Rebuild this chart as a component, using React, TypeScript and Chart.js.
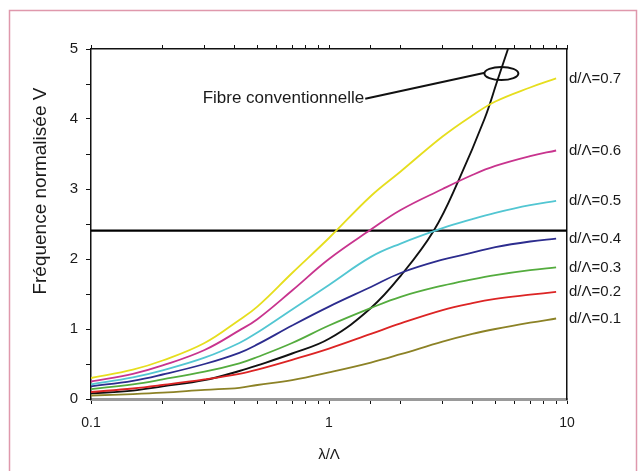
import React, { useEffect, useRef } from "react";
import { Chart, registerables } from "chart.js";

Chart.register(...registerables);

// ---- data ----
const xValues = [0.1, 0.15, 0.2, 0.3, 0.42, 0.5, 0.7, 1, 1.5, 2, 3, 4, 5, 7, 9];
const v07 = [0.3, 0.42, 0.55, 0.8, 1.13, 1.32, 1.8, 2.3, 2.9, 3.25, 3.75, 4.05, 4.25, 4.45, 4.58];
const v06 = [0.25, 0.36, 0.48, 0.7, 0.98, 1.14, 1.55, 2.0, 2.42, 2.7, 3.0, 3.2, 3.33, 3.47, 3.55];
const v05 = [0.21, 0.31, 0.41, 0.59, 0.8, 0.95, 1.28, 1.63, 2.03, 2.22, 2.44, 2.57, 2.66, 2.77, 2.83];
const v04 = [0.18, 0.26, 0.35, 0.5, 0.66, 0.78, 1.05, 1.32, 1.6, 1.8, 1.99, 2.09, 2.17, 2.25, 2.29];
const v03 = [0.14, 0.21, 0.28, 0.39, 0.51, 0.6, 0.8, 1.05, 1.3, 1.46, 1.62, 1.71, 1.77, 1.84, 1.88];
const v02 = [0.1, 0.15, 0.2, 0.28, 0.36, 0.42, 0.56, 0.72, 0.93, 1.08, 1.27, 1.37, 1.43, 1.49, 1.53];
const v01 = [0.05, 0.07, 0.09, 0.13, 0.16, 0.2, 0.27, 0.38, 0.52, 0.64, 0.82, 0.93, 1.0, 1.09, 1.15];

const convX = [0.1, 0.15, 0.2, 0.3, 0.42, 0.5, 0.7, 1, 1.5, 2, 2.75, 3.5, 4.5, 5.1, 5.65];
const convV = [0.08, 0.12, 0.18, 0.27, 0.4, 0.48, 0.65, 0.86, 1.3, 1.76, 2.4, 3.12, 4.0, 4.55, 5.0];

const cutoffX = [0.1, 10];
const cutoffV = [2.405, 2.405];

const seriesLabels = ["d/Λ=0.7", "d/Λ=0.6", "d/Λ=0.5", "d/Λ=0.4", "d/Λ=0.3", "d/Λ=0.2", "d/Λ=0.1"];
const seriesValues = [v07, v06, v05, v04, v03, v02, v01];
const seriesColors = ["#e6de1e", "#c8348e", "#52c6d2", "#2c2c8e", "#54ac3e", "#dc2424", "#8c8226"];

const xTickLabels = [0.1, 1, 10];
const yMin = 0;
const yMax = 5;

const yTitle = "Fréquence normalisée V";
const xTitle = "λ/Λ";
const convLabel = "Fibre conventionnelle";
const ellipseAt = { x: 5.3, y: 4.65 };
const leaderFrom = { x: 1.42, y: 4.29 };
const leaderTo = { x: 4.52, y: 4.66 };

const FONT = "'Liberation Sans', Arial, Helvetica, sans-serif";

const decorPlugin = {
  id: "decor",
  beforeDraw(chart: any) {
    const { ctx, width, height } = chart;
    ctx.save();
    ctx.fillStyle = "#ffffff";
    ctx.fillRect(0, 0, width, height);
    ctx.restore();
  },
  afterDraw(chart: any) {
    const { ctx, chartArea } = chart;
    const xs = chart.scales.x;
    const ys = chart.scales.y;
    ctx.save();
    // pink frame
    ctx.strokeStyle = "#df98ac";
    ctx.lineWidth = 1.5;
    ctx.strokeRect(9.5, 10.5, 627, 470);

    // right labels
    ctx.fillStyle = "#1a1a1a";
    ctx.font = `15px ${FONT}`;
    ctx.textAlign = "left";
    ctx.textBaseline = "middle";
    seriesValues.forEach((vals, i) => {
      const yy = ys.getPixelForValue(vals[vals.length - 1]);
      ctx.fillText(seriesLabels[i], chartArea.right + 2, yy);
    });

    // y title
    ctx.save();
    ctx.font = `19px ${FONT}`;
    ctx.textAlign = "center";
    ctx.textBaseline = "middle";
    ctx.translate(chartArea.left - 50, ys.getPixelForValue(2.97));
    ctx.rotate(-Math.PI / 2);
    ctx.fillText(yTitle, 0, 0);
    ctx.restore();

    // x title
    ctx.font = `15px ${FONT}`;
    ctx.textAlign = "center";
    ctx.textBaseline = "middle";
    ctx.fillText(xTitle, (chartArea.left + chartArea.right) / 2, chartArea.bottom + 56);

    // annotation
    const fx = xs.getPixelForValue(leaderFrom.x);
    const fy = ys.getPixelForValue(leaderFrom.y);
    const tx = xs.getPixelForValue(leaderTo.x);
    const ty = ys.getPixelForValue(leaderTo.y);
    ctx.strokeStyle = "#111";
    ctx.lineWidth = 2;
    ctx.beginPath();
    ctx.moveTo(fx, fy);
    ctx.lineTo(tx, ty);
    ctx.stroke();
    ctx.font = `17px ${FONT}`;
    ctx.textAlign = "right";
    ctx.fillText(convLabel, fx - 1, fy);

    const ex = xs.getPixelForValue(ellipseAt.x);
    const ey = ys.getPixelForValue(ellipseAt.y);
    ctx.beginPath();
    ctx.ellipse(ex, ey, 17, 6.5, 0, 0, Math.PI * 2);
    ctx.stroke();
    ctx.restore();
  },
};

const isDecade = (v: number) => Math.abs(Math.log10(v) - Math.round(Math.log10(v))) < 1e-6;

export default function App() {
  const ref = useRef<HTMLCanvasElement | null>(null);
  useEffect(() => {
    if (!ref.current) return;
    const datasets: any[] = seriesValues.map((vals, i) => ({
      label: seriesLabels[i],
      data: xValues.map((x, j) => ({ x, y: vals[j] })),
      borderColor: seriesColors[i],
      borderWidth: 1.8,
      pointRadius: 0,
      tension: 0.4,
      fill: false,
    }));
    datasets.push({
      label: convLabel,
      data: convX.map((x, j) => ({ x, y: convV[j] })),
      borderColor: "#111111",
      borderWidth: 1.9,
      pointRadius: 0,
      tension: 0.4,
      fill: false,
    });
    datasets.push({
      label: "cutoff",
      data: cutoffX.map((x, j) => ({ x, y: cutoffV[j] })),
      borderColor: "#000000",
      borderWidth: 2.2,
      pointRadius: 0,
      fill: false,
    });

    const chart = new Chart(ref.current, {
      type: "line",
      data: { datasets },
      plugins: [decorPlugin],
      options: {
        responsive: false,
        animation: false,
        layout: { padding: 0 },
        plugins: { legend: { display: false }, tooltip: { enabled: false } },
        scales: {
          x: {
            type: "logarithmic",
            position: "bottom",
            min: 0.1,
            max: 10,
            afterFit: (s: any) => { s.height = 72; },
            border: { display: true, color: "#9a9a9a", width: 3 },
            grid: { drawOnChartArea: false, drawTicks: true, tickLength: 5, color: "#111" },
            ticks: {
              autoSkip: false,
              maxRotation: 0,
              padding: 11,
              color: "#1a1a1a",
              font: { size: 14, family: FONT },
              callback: (v: any) => {
                const n = Number(v);
                return xTickLabels.some((t) => Math.abs(t - n) < 1e-9) && isDecade(n) ? String(n) : "";
              },
            },
          },
          x2: {
            type: "logarithmic",
            position: "top",
            min: 0.1,
            max: 10,
            afterFit: (s: any) => { s.height = 49; },
            border: { display: true, color: "#111", width: 1.5 },
            grid: { drawOnChartArea: false, drawTicks: true, tickLength: 4, color: "#111" },
            ticks: { display: false, autoSkip: false },
          },
          y: {
            type: "linear",
            position: "left",
            min: yMin,
            max: yMax,
            afterFit: (s: any) => { s.width = 91; },
            border: { display: true, color: "#111", width: 1.5 },
            grid: { drawOnChartArea: false, drawTicks: true, tickLength: 5, color: "#111" },
            ticks: {
              stepSize: 0.5,
              autoSkip: false,
              padding: 8,
              color: "#1a1a1a",
              font: { size: 15, family: FONT },
              callback: (v: any) => (Number.isInteger(Number(v)) ? String(v) : ""),
            },
          },
          y2: {
            type: "linear",
            position: "right",
            min: yMin,
            max: yMax,
            afterFit: (s: any) => { s.width = 73; },
            border: { display: true, color: "#111", width: 1.5 },
            grid: { drawOnChartArea: false, drawTicks: false },
            ticks: { display: false },
          },
        },
      } as any,
    });
    return () => chart.destroy();
  }, []);
  return (
    <div style={{ position: "fixed", left: 0, top: 0, width: 640, height: 471 }}>
      <canvas ref={ref} width={640} height={471} style={{ display: "block" }} />
    </div>
  );
}
